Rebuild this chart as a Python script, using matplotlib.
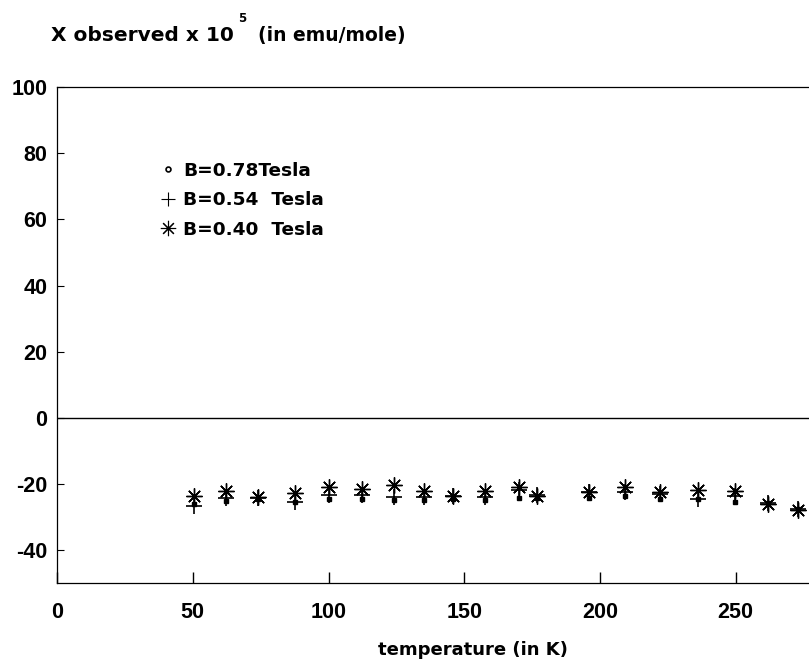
import matplotlib
matplotlib.use("Agg")
import matplotlib.pyplot as plt
from matplotlib.lines import Line2D

plt.rcParams['font.family'] = ['DejaVu Sans']
plt.rcParams['font.weight'] = 'bold'
plt.rcParams['axes.unicode_minus'] = False

temperature = [50.6, 62.2, 74.0, 87.8, 100.2, 112.2, 124.0, 135.0, 146.0, 157.8,
               170.2, 176.8, 195.8, 209.1, 222.1, 236.1, 249.6, 261.8, 272.8]
chi_078 = [-26.0, -25.2, -24.7, -25.6, -24.7, -24.7, -24.9, -24.9, -24.7, -24.9,
           -24.2, -24.4, -24.4, -23.6, -24.6, -24.6, -25.6, -25.9, -27.6]
chi_054 = [-26.6, -24.3, -24.3, -25.6, -23.5, -23.4, -24.0, -24.0, -23.8, -24.0,
           -21.8, -23.5, -22.6, -22.6, -23.1, -24.6, -23.8, -25.9, -27.7]
chi_040 = [-23.7, -22.2, -24.1, -22.9, -21.1, -21.6, -20.2, -22.2, -23.6, -22.2,
           -21.1, -23.7, -22.5, -21.1, -22.6, -21.8, -22.2, -26.2, -28.0]
labels = ['B=0.78Tesla', 'B=0.54  Tesla', 'B=0.40  Tesla']
xticks = [0, 50, 100, 150, 200, 250]
yticks = [-40, -20, 0, 20, 40, 60, 80, 100]
ytick_labels = ['-40', '-20', '0', '20', '40', '60', '80', '100']

fig = plt.figure(figsize=(8.09, 6.61), dpi=100)
ax = fig.add_axes([0.0705, 0.118, 0.9295, 0.750])

ast = (8, 2, 0)
ax.plot(temperature, chi_040, linestyle='none', marker=ast, markersize=11.5,
        markeredgewidth=1.0, color='black')
ax.plot(temperature, chi_054, linestyle='none', marker='+', markersize=12,
        markeredgewidth=1.2, color='black')
ax.plot(temperature, chi_078, linestyle='none', marker='s', markersize=3.5,
        color='black')
ax.axhline(0, color='black', linewidth=1.0)

ax.set_xlim(0, 277)
ax.set_ylim(-50, 100)
ax.set_xticks(xticks)
ax.set_yticks(yticks)
ax.set_yticklabels(ytick_labels)
for lab in ax.get_xticklabels() + ax.get_yticklabels():
    lab.set_family(['Liberation Sans', 'DejaVu Sans'])
ax.tick_params(axis='x', direction='in', length=8, width=1, labelsize=15.5, pad=14)
ax.tick_params(axis='y', direction='in', length=5, width=0.8, labelsize=15.5, pad=7)
for s in ax.spines.values():
    s.set_linewidth(0.9)
ax.spines['right'].set_visible(False)

handles = [
    Line2D([], [], linestyle='none', marker='o', markersize=3.5, markerfacecolor='white',
           markeredgecolor='black', markeredgewidth=1.2),
    Line2D([], [], linestyle='none', marker='+', markersize=10, color='black', markeredgewidth=0.8),
    Line2D([], [], linestyle='none', marker=ast, markersize=11, color='black', markeredgewidth=0.8),
]
leg = ax.legend(handles, labels, loc='upper left', bbox_to_anchor=(0.116, 0.883), frameon=False,
                handlelength=0.8, handletextpad=0.4, labelspacing=0.62,
                prop={'weight': 'bold', 'size': 13.3, 'family': 'DejaVu Sans'})

fig.text(0.063, 0.947, 'X observed x 10', fontsize=14.5, fontweight='bold',
         ha='left', va='center')
fig.text(0.319, 0.947, '(in emu/mole)', fontsize=13.5, fontweight='bold',
         ha='left', va='center')
fig.text(0.299, 0.972, '5', fontsize=8.5, fontweight='bold', ha='center', va='center')
fig.text(0.585, 0.017, 'temperature (in K)', fontsize=13, fontweight='bold',
         ha='center', va='center')

fig.savefig('out.png', dpi=100)
